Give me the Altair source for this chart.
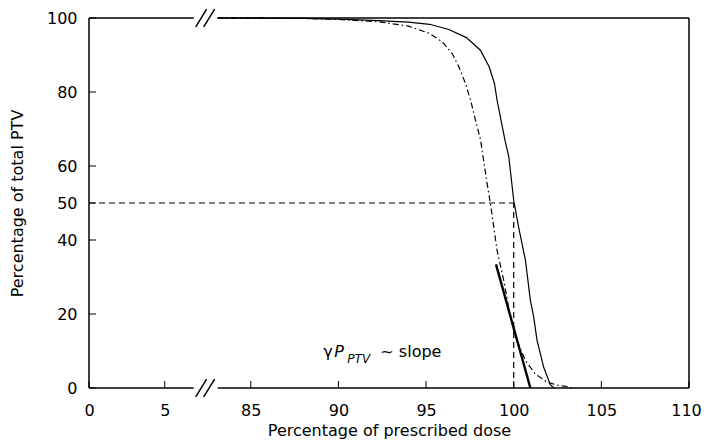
import altair as alt
import pandas as pd

# ---- data ----
solid_dose = [83.1, 88.0, 90.0, 92.3, 94.0, 95.2, 96.3, 97.3, 98.1, 98.6, 98.9, 99.05,
              99.5, 99.72, 100.0, 100.28, 100.67, 100.95, 101.14, 101.33, 101.71, 102.09, 102.3]
solid_vol = [100.0, 99.9, 99.7, 99.3, 98.9, 98.3, 96.9, 94.7, 91.3, 86.8, 82.3, 77.8,
             67.0, 62.5, 50.7, 43.5, 34.5, 23.7, 19.2, 12.9, 5.6, 0.9, 0.0]
dashdot_dose = [83.1, 88.0, 90.0, 92.3, 94.0, 95.16, 95.92, 96.49, 96.87, 97.25, 97.54, 97.82,
                98.11, 98.48, 98.67, 99.05, 99.43, 99.81, 100.1, 100.67, 101.23, 101.89,
                102.56, 103.03, 103.3]
dashdot_vol = [100.0, 99.9, 99.6, 99.0, 97.8, 95.9, 93.6, 90.4, 86.8, 82.3, 77.8, 72.4,
               67.0, 55.3, 49.9, 37.2, 29.1, 19.2, 13.7, 7.4, 3.8, 1.6, 0.7, 0.4, 0.0]

slope_dose = [98.99, 100.95]
slope_vol = [33.4, 0.0]

ref_dose = 100
ref_vol = 50

x_ticks = [0, 5, 85, 90, 95, 100, 105, 110]
y_ticks = [0, 20, 40, 50, 60, 80, 100]

annot_dose = 89.14
annot_vol = 8.25

# ---- broken-axis mapping (display units) ----
LOW_SCALE = 0.864
HIGH_SHIFT = 75.77
T_MAX = 110 - HIGH_SHIFT
BREAK_LO = 5.97
BREAK_HI = 7.34


def to_t(v):
    return v * LOW_SCALE if v < 50 else v - HIGH_SHIFT


FONT = "DejaVu Sans"
W, H = 600, 370

xs = alt.Scale(domain=[0, T_MAX], nice=False, zero=False)
ys = alt.Scale(domain=[0, 100], nice=False, zero=False)

curves = pd.DataFrame(
    {"t": [to_t(v) for v in solid_dose] + [to_t(v) for v in dashdot_dose],
     "vol": solid_vol + dashdot_vol,
     "series": ["solid"] * len(solid_dose) + ["dashdot"] * len(dashdot_dose),
     "i": list(range(len(solid_dose))) + list(range(len(dashdot_dose)))}
)

tick_t = [to_t(v) for v in x_ticks]
label_expr = ("datum.value < 6 ? format(datum.value / %s, '.0f') : format(datum.value + %s, '.0f')"
              % (LOW_SCALE, HIGH_SHIFT))

xaxis = alt.Axis(values=tick_t, labelExpr=label_expr, title="Percentage of prescribed dose",
                 domain=False, ticks=False, tickSize=0, grid=False, labelPadding=27,
                 labelFlush=False, labelOverlap=False,
                 labelOffset={"condition": {"test": "datum.value > 30", "value": -3}, "value": 0},
                 labelBaseline="alphabetic", titleY=47, titleBaseline="alphabetic")
yaxis = alt.Axis(values=y_ticks, title="Percentage of total PTV", domain=False, ticks=False,
                 tickSize=0, grid=False, labelPadding=12, titleX=-72, titleY=H / 2,
                 labelFlush=False, labelOverlap=False,
                 titleBaseline="middle", titleAngle=270)

base_axes = alt.Chart(pd.DataFrame({"t": [0.0], "vol": [0.0]})).mark_point(opacity=0).encode(
    x=alt.X("t:Q", scale=xs, axis=xaxis),
    y=alt.Y("vol:Q", scale=ys, axis=yaxis),
)

solid = alt.Chart(curves[curves.series == "solid"]).mark_line(
    color="black", strokeWidth=1.2).encode(
    x=alt.X("t:Q", scale=xs), y=alt.Y("vol:Q", scale=ys), order="i:Q")

dashdot = alt.Chart(curves[curves.series == "dashdot"]).mark_line(
    color="black", strokeWidth=1.2, strokeDash=[6, 3, 1.5, 3]).encode(
    x=alt.X("t:Q", scale=xs), y=alt.Y("vol:Q", scale=ys), order="i:Q")

refs = pd.DataFrame({"x": [0.0, to_t(ref_dose)], "x2": [to_t(ref_dose), to_t(ref_dose)],
                     "y": [ref_vol, 0.0], "y2": [ref_vol, ref_vol]})
ref_lines = alt.Chart(refs).mark_rule(color="black", strokeWidth=1.2, strokeDash=[6, 4]).encode(
    x=alt.X("x:Q", scale=xs), x2="x2:Q", y=alt.Y("y:Q", scale=ys), y2="y2:Q")

slope = pd.DataFrame({"x": [to_t(slope_dose[0])], "x2": [to_t(slope_dose[1])],
                      "y": [slope_vol[0]], "y2": [slope_vol[1]]})
slope_line = alt.Chart(slope).mark_rule(color="black", strokeWidth=2.4).encode(
    x=alt.X("x:Q", scale=xs), x2="x2:Q", y=alt.Y("y:Q", scale=ys), y2="y2:Q")

border = pd.DataFrame({
    "x":  [0.0, T_MAX, 0.0, BREAK_HI, 0.0, BREAK_HI, 6.09, 6.54, 6.09, 6.54],
    "x2": [0.0, T_MAX, BREAK_LO, T_MAX, BREAK_LO, T_MAX, 6.71, 7.17, 6.71, 7.17],
    "y":  [0.0, 0.0, 0.0, 0.0, 100.0, 100.0, -2.4, -2.4, 97.6, 97.6],
    "y2": [100.0, 100.0, 0.0, 0.0, 100.0, 100.0, 2.4, 2.4, 102.4, 102.4],
})
frame = alt.Chart(border).mark_rule(color="black", strokeWidth=1.5).encode(
    x=alt.X("x:Q", scale=xs), x2="x2:Q", y=alt.Y("y:Q", scale=ys), y2="y2:Q")

xt = alt.Chart(pd.DataFrame({"t": tick_t})).mark_rule(color="black", strokeWidth=1).encode(
    x=alt.X("t:Q", scale=xs), y=alt.value(H), y2=alt.value(H - 7))
yt = alt.Chart(pd.DataFrame({"v": y_ticks})).mark_rule(color="black", strokeWidth=1).encode(
    y=alt.Y("v:Q", scale=ys), x=alt.value(0), x2=alt.value(7))

ann_df = pd.DataFrame({"t": [to_t(annot_dose)], "vol": [annot_vol]})


def piece(txt, dx, dy=0, size=16, style="normal"):
    return alt.Chart(ann_df).mark_text(
        text=txt, dx=dx, dy=dy, fontSize=size, fontStyle=style, font=FONT, color="black",
        align="left", baseline="alphabetic").encode(
        x=alt.X("t:Q", scale=xs), y=alt.Y("vol:Q", scale=ys))


ann = piece("γ", 0) + piece("P", 11, style="italic") + piece("PTV", 24, dy=6, size=12, style="italic") \
    + piece("~ slope", 57)

chart = alt.layer(base_axes, ref_lines, solid, dashdot, slope_line, frame, xt, yt, ann).properties(
    width=W, height=H,
    padding={"left": 81, "top": 10, "right": 14, "bottom": 51},
    autosize=alt.AutoSizeParams(type="none"),
).configure_view(stroke=None).configure_axis(
    labelFont=FONT, labelFontSize=16, labelColor="black",
    titleFont=FONT, titleFontSize=16, titleColor="black", titleFontWeight="normal",
)

chart.save("out.html", embed_options={"renderer": "svg", "actions": False})
